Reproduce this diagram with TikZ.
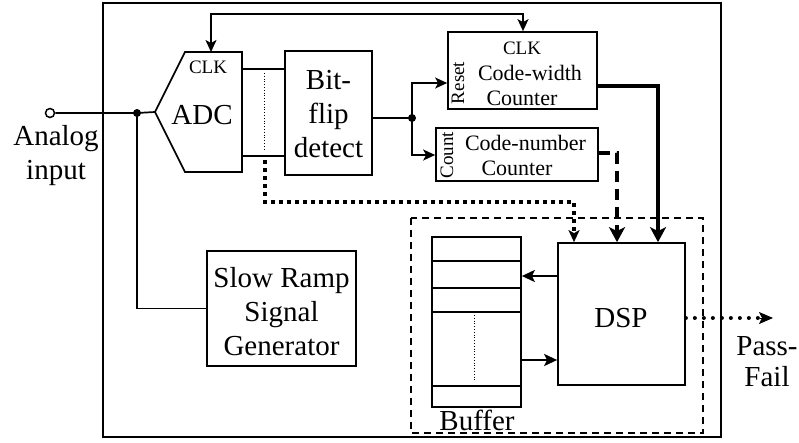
\documentclass[tikz,border=0pt]{standalone}
\usepackage{fontspec}
\setmainfont{Liberation Serif}
\usetikzlibrary{arrows.meta}
\tikzset{
  blk/.style={draw, line width=1.7pt, inner sep=0pt, align=center},
  wire/.style={line width=1.7pt},
  sig/.style={wire, -{Stealth[length=12pt,width=11pt,inset=3pt]}},
  bus/.style={line width=4.5pt, -{Stealth[length=15pt,width=16pt,inset=4pt]}},
  big/.style={font=\fontsize{29}{34}\selectfont, align=center, inner sep=0pt},
  bigs/.style={font=\fontsize{14.5}{17}\selectfont, align=center, inner sep=0pt, scale=2},
  small/.style={font=\fontsize{19}{22}\selectfont, inner sep=0pt},
  mid/.style={font=\fontsize{22}{25}\selectfont, inner sep=0pt},
}
\begin{document}
\begin{tikzpicture}[x=1pt,y=-1pt]
  \useasboundingbox (0,0) rectangle (799,442);
  % frames
  \draw[wire] (103,3) rectangle (721,437);
  \draw[line width=1.4pt, dash pattern=on 7pt off 5pt] (411,218) rectangle (703,433);
  % blocks
  \draw[wire] (155,112) -- (185,52) -- (242,52) -- (242,172) -- (185,172) -- cycle;
  \coordinate (adcin) at (155,112);
  \coordinate (adcclk) at (211,52);
  \node[small] (adcclktxt) at (208,67) {CLK};
  \node[big] (adctxt) at (202,115) {ADC};
  \node[blk, minimum width=87pt, minimum height=124pt] (flip) at (328.5,113) {};
  \node[bigs] (fliptxt) at (328.5,114) {Bit-\\flip\\detect};
  \node[blk, minimum width=149pt, minimum height=77pt] (cw) at (522.5,70.5) {};
  \node[small] (cwclk) at (522,48) {CLK};
  \node[mid] (cwtxt) at (530,73) {Code-width};
  \node[mid] (cwtxt2) at (522,98) {Counter};
  \node[small, rotate=90] (reset) at (458,83) {Reset};
  \node[blk, minimum width=162pt, minimum height=53pt] (cn) at (517,154.5) {};
  \node[mid] (cntxt) at (525.5,143) {Code-number};
  \node[mid] (cntxt2) at (517,168) {Counter};
  \node[small, rotate=90] (count) at (447,155) {Count};
  \node[blk, minimum width=127pt, minimum height=142pt] (dsp) at (621.5,314) {};
  \node[big] (dsptxt) at (621,318) {DSP};
  \node[blk, minimum width=89pt, minimum height=170pt] (buf) at (476.5,322) {};
  \node[big] (buftxt) at (477,420) {Buffer};
  \node[blk, minimum width=149pt, minimum height=115pt] (ramp) at (281.5,308.5) {};
  \node[bigs] (ramptxt) at (281.5,312) {Slow Ramp\\Signal\\Generator};
  \node[big] (ain) at (56,156) {Analog\\input};
  \node[big, font=\fontsize{29}{31}\selectfont] (pf) at (767,362) {Pass-\\Fail};
  % buffer rows
  \foreach \y in {261,288,312,386}
    \draw[wire] (buf.west |- 0,\y) -- (buf.east |- 0,\y);
  \draw[line width=0.8pt, dotted] (474,315) -- (474,380);
  % input side
  \node[draw, circle, line width=1.5pt, inner sep=0pt, minimum size=9pt] (inpin) at (50,113) {};
  \coordinate (j1) at (137,113);
  \draw[wire] (inpin) -- (j1) -- (adcin);
  \draw[wire] (j1) |- (ramp.west);
  \fill (j1) circle (4pt);
  % ADC to bit-flip
  \draw[wire] (242,69) -- (flip.west |- 0,69);
  \draw[wire] (242,156) -- (flip.west |- 0,156);
  \draw[line width=0.8pt, dotted] (264,73) -- (264,150);
  % bit-flip to counters
  \coordinate (j2) at (412,118);
  \draw[wire] (flip.east |- j2) -- (j2);
  \fill (j2) circle (4pt);
  \draw[sig] (j2) |- (cw.west |- 0,83);
  \draw[sig] (j2) |- (cn.west |- 0,155);
  % clock
  \draw[wire, {Stealth[length=12pt,width=11pt,inset=3pt]}-{Stealth[length=12pt,width=11pt,inset=3pt]}]
    (adcclk) -- (211,14) -- (523,14) -- (cw.north -| 523,0);
  % counters to DSP
  \draw[bus] (cw.east |- 0,86) -| (dsp.north -| 658,0);
  \draw[bus, dash pattern=on 11pt off 7pt] (cn.east |- 0,153) -| (dsp.north -| 617,0);
  \draw[line width=4pt, dash pattern=on 4pt off 4pt, -{Stealth[length=12pt,width=11pt,inset=3pt]}]
    (265,160) -- (265,202) -| (dsp.north -| 574,0);
  % DSP and buffer
  \draw[line width=2.5pt, -{Stealth[length=13pt,width=12pt,inset=3pt]}] (dsp.west |- 0,276) -- (buf.east |- 0,276);
  \draw[line width=2.5pt, -{Stealth[length=13pt,width=12pt,inset=3pt]}] (buf.east |- 0,360) -- (dsp.west |- 0,360);
  % result
  \draw[line width=4pt, line cap=round, dash pattern=on 0pt off 9pt] (dsp.east |- 0,318) -- (760,318);
  \draw[-{Stealth[length=14pt,width=12pt,inset=3pt]}, line width=1pt] (760,318) -- (773,318);
\end{tikzpicture}
\end{document}
